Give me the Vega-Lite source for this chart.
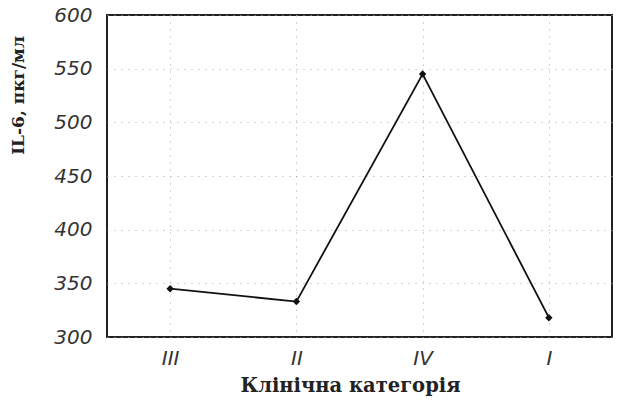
{
  "$schema": "https://vega.github.io/schema/vega-lite/v6.json",
  "autosize": {"type": "none"},
  "padding": {"left": 107, "top": 15, "right": 7, "bottom": 64},
  "width": 505,
  "height": 322,
  "background": "white",
  "config": {
    "view": {"stroke": "#222", "strokeWidth": 2},
    "axis": {
      "labelFont": "DejaVu Sans",
      "labelFontStyle": "italic",
      "labelFontSize": 20,
      "labelColor": "#333",
      "titleFont": "DejaVu Serif",
      "titleFontWeight": "bold",
      "titleColor": "#222",
      "grid": true,
      "gridColor": "#aaa",
      "gridDash": [1, 6],
      "gridWidth": 1,
      "ticks": false,
      "domain": false
    }
  },
  "data": {
    "values": [
      {"category": "III", "il6": 345},
      {"category": "II", "il6": 333},
      {"category": "IV", "il6": 545},
      {"category": "I", "il6": 318}
    ]
  },
  "encoding": {
    "x": {
      "field": "category",
      "type": "ordinal",
      "sort": ["III", "II", "IV", "I"],
      "scale": {"type": "point", "padding": 0.5},
      "axis": {"title": "Клінічна категорія", "labelAngle": 0, "labelPadding": 11, "titleFontSize": 19.5, "titlePadding": 8, "titleX": 243}
    },
    "y": {
      "field": "il6",
      "type": "quantitative",
      "scale": {"domain": [300, 600], "nice": false, "zero": false},
      "axis": {"title": "IL-6, пкг/мл", "values": [300, 350, 400, 450, 500, 550, 600], "labelPadding": 15, "titleFontSize": 17, "titleX": -89, "titleY": 80, "titleAngle": -90, "titleAlign": "center", "titleBaseline": "middle"}
    }
  },
  "layer": [
    {"mark": {"type": "line", "color": "#111", "strokeWidth": 1.8}},
    {"mark": {"type": "point", "shape": "diamond", "filled": true, "color": "#111", "size": 55, "opacity": 1}}
  ]
}
